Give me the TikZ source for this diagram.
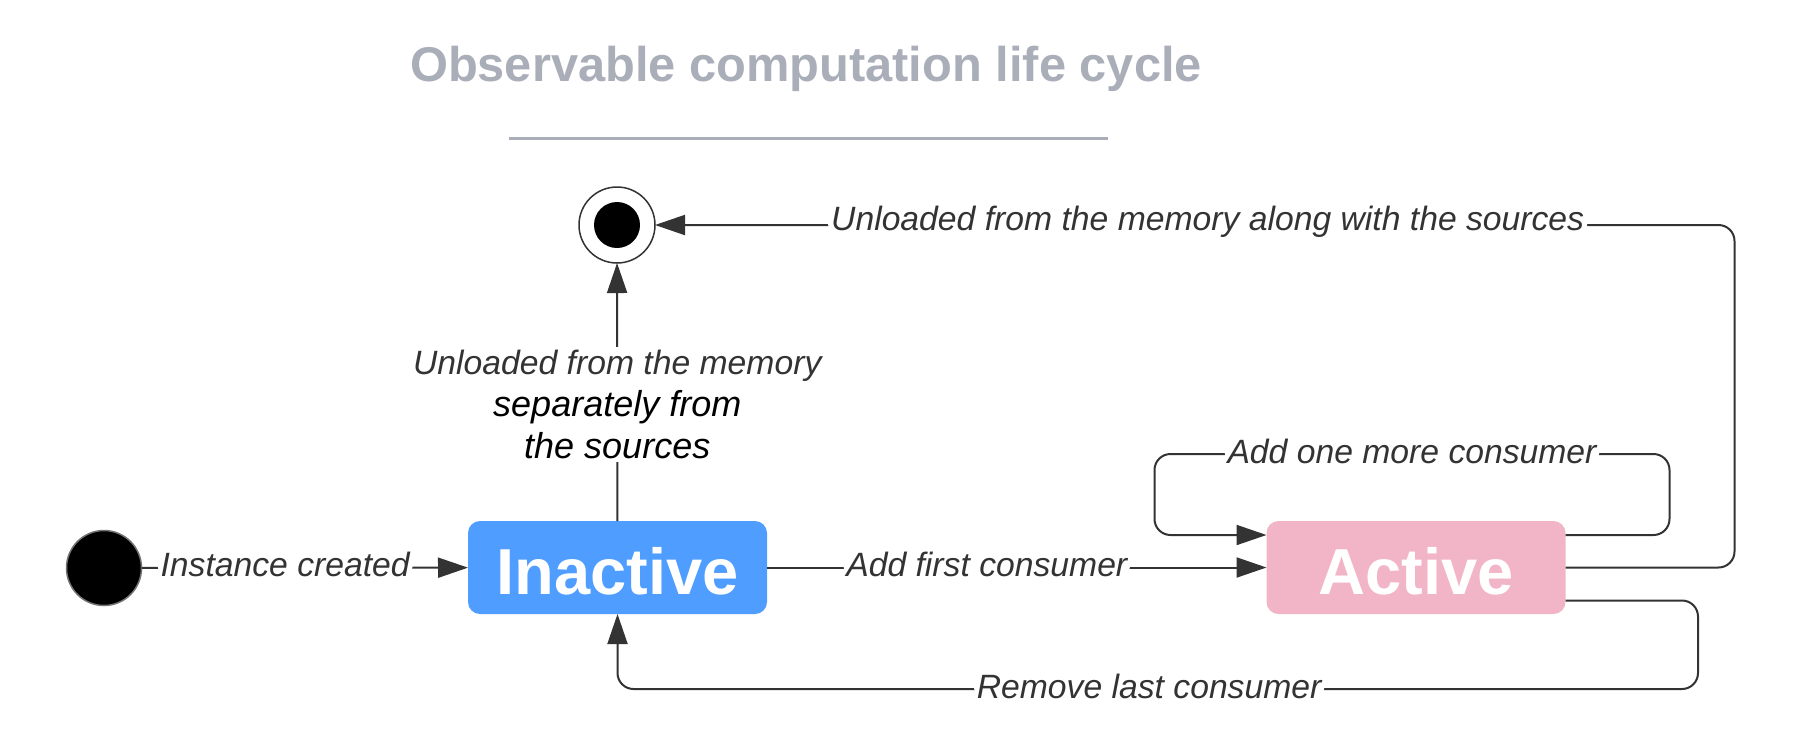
\documentclass[tikz,border=0pt]{standalone}
\usepackage{fontspec}
\setmainfont{Liberation Sans}
\usepackage{tikz}
\usetikzlibrary{calc,arrows.meta}

\definecolor{titlegray}{HTML}{A9AEB9}
\definecolor{inactiveblue}{HTML}{4F9EFF}
\definecolor{activepink}{HTML}{F2B5C8}
\definecolor{edgegray}{HTML}{333333}

\begin{document}
\begin{tikzpicture}[x=0.5pt, y=-0.5pt, inner sep=0pt, outer sep=0pt,
    statebox/.style={rounded corners=6pt, minimum width=149.5pt, minimum height=46.5pt,
      text height=26.7pt, text depth=0pt,
      text=white, font=\fontsize{32.5}{39}\selectfont\bfseries},
    trans/.style={draw=edgegray, line width=1pt, rounded corners=8pt,
      -{Triangle[length=15pt,width=10pt]}},
    lbl/.style={fill=white, text=edgegray, inner sep=1.5pt, yshift=1.5pt,
      font=\fontsize{16.85}{20}\selectfont\itshape}]
    \useasboundingbox (0,0) rectangle (1800,746);

    % title and rule
    \node[text=titlegray, font=\fontsize{24.4}{29}\selectfont\bfseries] (title) at (806,69)
    {Observable computation life cycle};
    \draw[titlegray, line width=1.5pt] (509,138) -- (1108,138);

    % start and end states
    \node[circle, fill=black, draw=black!55, line width=0.75pt, minimum size=37.5pt] (init) at (104,568) {};
    \node[circle, fill=white, draw=edgegray, line width=0.75pt, minimum size=38pt] (final) at (617,225) {};
    \node[circle, fill=black, minimum size=23pt] (final_dot) at (final) {};

    % states
    \node[statebox, fill=inactiveblue] (inactive) at (617.5,567.5) {Inactive};
    \node[statebox, fill=activepink] (active) at (1416,567.5) {Active};

    % transitions
    \draw[trans] (init) -- node[lbl, pos=0.44] {Instance created} (inactive);
    \draw[trans] (inactive) -- node[lbl, pos=0.44] {Add first consumer} (active);

    \draw[trans] ($(active.east)+(0,-32.5)$) -- ++(104,0) -- ++(0,-81)
      -- node[lbl] {Add one more consumer} ++(-515,0) -- ++(0,81)
      -- ($(active.west)+(0,-32.5)$);

    \draw[trans] (active.east) -- ++(169,0)
      |- node[lbl, pos=0.744] {Unloaded from the memory along with the sources} (final);

    \draw[trans] ($(active.east)+(0,33)$) -- ++(132.5,0) -- ++(0,88.5)
      -| node[lbl, pos=0.254] {Remove last consumer} (inactive);

    \draw[trans] (inactive) -- node[lbl, pos=0.44, align=center]
    {Unloaded from the memory\\[1pt]
     {\color{black}\fontsize{18}{20}\selectfont separately from}\\[1pt]
     {\color{black}\fontsize{18}{20}\selectfont the sources}} (final);

\end{tikzpicture}
\end{document}
